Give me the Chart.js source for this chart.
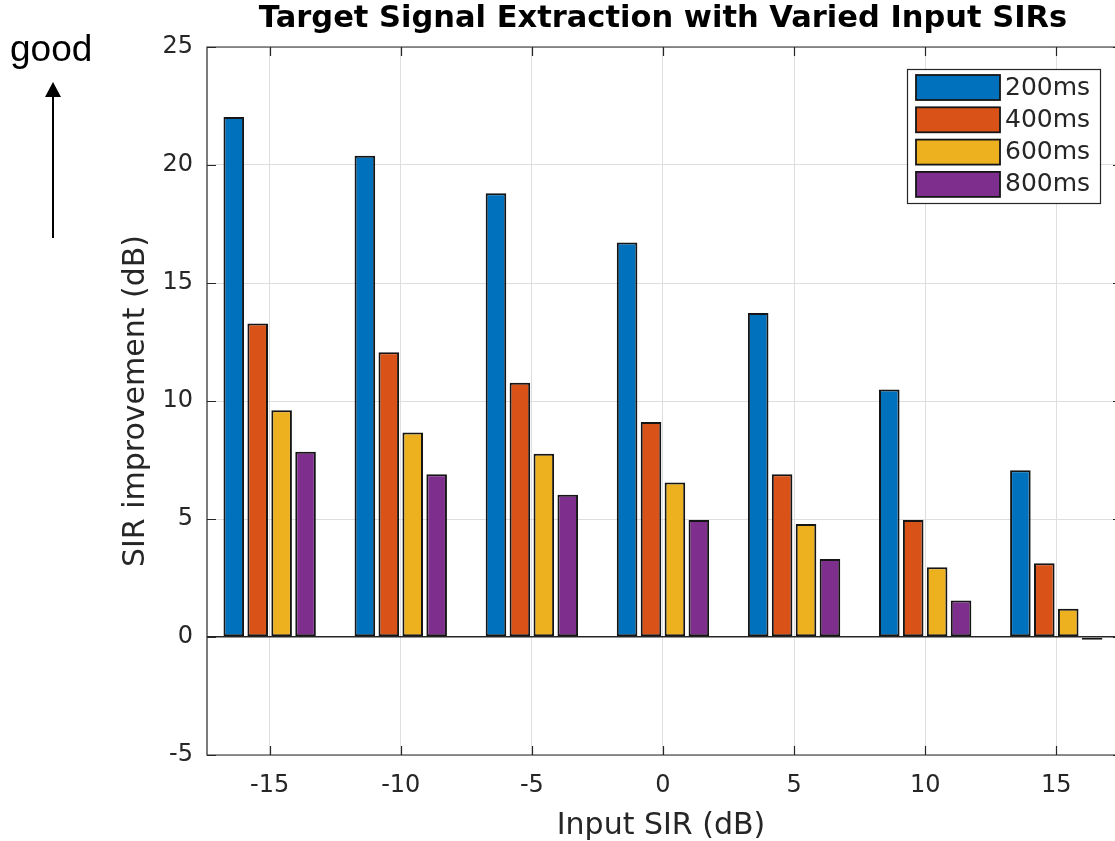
<!DOCTYPE html>
<html>
<head>
<meta charset="utf-8">
<script src="https://cdn.jsdelivr.net/npm/chart.js@4.4.1/dist/chart.umd.min.js"></script>
<style>
  html, body { margin: 0; padding: 0; background: #fff; overflow: hidden; }
  #wrap { width: 1115px; height: 841px; position: relative; }
</style>
</head>
<body>
<div id="wrap"><canvas id="myChart" width="1115" height="841"></canvas></div>
<script>
// datos
const inputSIR = [-15, -10, -5, 0, 5, 10, 15];
const etiquetasSerie = ['200ms', '400ms', '600ms', '800ms'];
const mejora200 = [22.03, 20.39, 18.80, 16.72, 13.73, 10.49, 7.07];
const mejora400 = [13.28, 12.07, 10.77, 9.11, 6.90, 4.96, 3.13];
const mejora600 = [9.61, 8.66, 7.77, 6.55, 4.79, 2.96, 1.20];
const mejora800 = [7.85, 6.90, 6.03, 4.96, 3.31, 1.55, -0.12];
const ticksY = [-5, 0, 5, 10, 15, 20, 25];

const colores = ['#0072BD', '#D95319', '#EDB120', '#7E2F8E'];
const series = [mejora200, mejora400, mejora600, mejora800];

const datasets = series.map((valores, i) => ({
  label: etiquetasSerie[i],
  data: inputSIR.map((x, j) => ({ x: x, y: valores[j] })),
  backgroundColor: colores[i],
  borderColor: '#151515',
  borderWidth: 2,
  borderSkipped: false,
  categoryPercentage: 0.73,
  barPercentage: 0.86
}));

const fuenteEje = 'DejaVu Sans';

// titulo, flecha "good", caja del eje y leyenda
const extras = {
  id: 'extras',
  afterDraw(chart) {
    const ctx = chart.ctx;
    const a = chart.chartArea;
    ctx.save();

    // caja del grafico (el lado derecho queda fuera del recorte)
    ctx.strokeStyle = '#262626';
    ctx.lineWidth = 1.2;
    ctx.beginPath();
    ctx.moveTo(a.right + 10, a.top);
    ctx.lineTo(a.left, a.top);
    ctx.lineTo(a.left, a.bottom);
    ctx.lineTo(a.right + 10, a.bottom);
    ctx.stroke();

    // marcas hacia adentro
    const sy = chart.scales.y, sx = chart.scales.x;
    ctx.beginPath();
    ticksY.forEach(v => {
      const y = Math.round(sy.getPixelForValue(v)) + 0.5;
      ctx.moveTo(a.left, y); ctx.lineTo(a.left + 9, y);
      ctx.moveTo(a.right, y); ctx.lineTo(a.right - 2, y);
    });
    inputSIR.forEach(v => {
      const x = Math.round(sx.getPixelForValue(v)) + 0.5;
      ctx.moveTo(x, a.bottom); ctx.lineTo(x, a.bottom - 9);
      ctx.moveTo(x, a.top); ctx.lineTo(x, a.top + 9);
    });
    ctx.stroke();

    // titulo
    ctx.fillStyle = '#000';
    ctx.font = 'bold 30.5px "DejaVu Sans"';
    ctx.textAlign = 'center';
    ctx.textBaseline = 'middle';
    ctx.fillText('Target Signal Extraction with Varied Input SIRs', 663, 19);

    // "good" y flecha
    ctx.font = '37px "Liberation Sans"';
    ctx.textAlign = 'left';
    ctx.textBaseline = 'alphabetic';
    ctx.fillText('good', 10, 61);
    ctx.strokeStyle = '#000';
    ctx.lineWidth = 2;
    ctx.beginPath();
    ctx.moveTo(53, 238);
    ctx.lineTo(53, 95);
    ctx.stroke();
    ctx.beginPath();
    ctx.moveTo(53, 82);
    ctx.lineTo(45, 97);
    ctx.lineTo(61, 97);
    ctx.closePath();
    ctx.fill();

    // leyenda
    const lx = 907, ly = 69, lw = 193, lh = 134;
    ctx.fillStyle = '#fff';
    ctx.fillRect(lx, ly, lw, lh);
    ctx.strokeStyle = '#262626';
    ctx.lineWidth = 1.2;
    ctx.strokeRect(lx + 0.5, ly + 0.5, lw, lh);
    ctx.font = '25px "DejaVu Sans"';
    ctx.textBaseline = 'middle';
    chart.data.datasets.forEach((ds, i) => {
      const y = 75 + i * 32.3;
      ctx.fillStyle = ds.backgroundColor;
      ctx.fillRect(916, y, 84, 25);
      ctx.strokeStyle = '#151515';
      ctx.lineWidth = 1.8;
      ctx.strokeRect(916, y, 84, 25);
      ctx.fillStyle = '#262626';
      ctx.fillText(ds.label, 1005, y + 13);
    });
    ctx.restore();
  }
};

const ctx = document.getElementById('myChart').getContext('2d');
const myChart = new Chart(ctx, {
  type: 'bar',
  data: { datasets: datasets },
  plugins: [extras],
  options: {
    responsive: false,
    animation: false,
    layout: { padding: { top: 47, left: 0, right: 0, bottom: 0 } },
    plugins: {
      legend: { display: false },
      tooltip: { enabled: false },
      title: { display: false }
    },
    scales: {
      x: {
        type: 'linear',
        min: -17.39,
        max: 17.24,
        offset: false,
        afterBuildTicks: s => { s.ticks = inputSIR.map(v => ({ value: v })); },
        afterFit: s => { s.height = 86; },
        grid: { color: '#dedede', drawTicks: false, offset: false },
        border: { display: false },
        ticks: {
          color: '#262626',
          font: { family: fuenteEje, size: 24 },
          padding: 16,
          maxRotation: 0
        },
        title: {
          display: true,
          text: 'Input SIR (dB)',
          color: '#262626',
          font: { family: fuenteEje, size: 30, lineHeight: 1 },
          padding: { top: 0, bottom: 0 }
        }
      },
      y: {
        min: -5,
        max: 25,
        afterBuildTicks: s => { s.ticks = ticksY.map(v => ({ value: v })); },
        afterFit: s => { s.width = 207; },
        grid: {
          color: c => (c.tick && c.tick.value === 0) ? '#262626' : '#dedede',
          lineWidth: c => (c.tick && c.tick.value === 0) ? 1.5 : 1,
          drawTicks: false
        },
        border: { display: false },
        ticks: {
          color: '#262626',
          font: { family: fuenteEje, size: 24 },
          padding: 14
        },
        title: {
          display: true,
          text: 'SIR improvement (dB)',
          color: '#262626',
          font: { family: fuenteEje, size: 30, lineHeight: 1 },
          padding: { top: 121, bottom: 0 }
        }
      }
    }
  }
});
</script>
</body>
</html>
